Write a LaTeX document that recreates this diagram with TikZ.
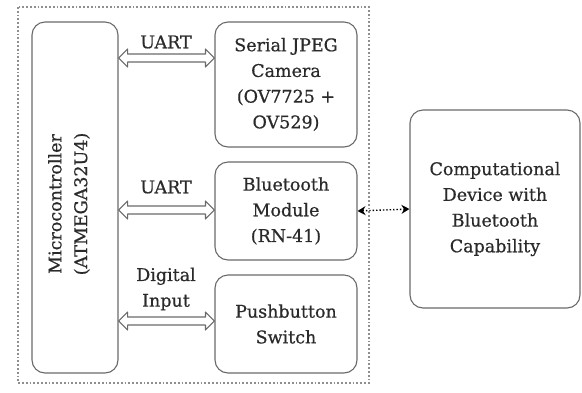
\documentclass[tikz,border=0pt]{standalone}
\usepackage{fontspec}
\setmainfont{DejaVu Serif}[FakeBold=0.6]
\usetikzlibrary{arrows.meta,calc}
\definecolor{linegray}{HTML}{6A6A6A}
\definecolor{textgray}{HTML}{2A2A2A}
\newcommand{\hollowdbl}[2]{%
  \draw[linegray, line width=1.1pt, fill=white, line join=round]
    (#1) -- ++(9,-9) -- ++(0,5) -- ($(#2)+(-9,-4)$) -- ++(0,-5) -- (#2)
    -- ++(-9,9) -- ++(0,-5) -- ($(#1)+(9,4)$) -- ++(0,5) -- cycle;}
\begin{document}
\begin{tikzpicture}[x=1pt,y=-1pt,
  box/.style={draw=linegray, line width=1.1pt, rounded corners=13pt, text=textgray, align=center,
    font=\fontsize{17.5}{25.7}\selectfont, inner sep=0pt},
  lbl/.style={text=textgray, align=center, font=\fontsize{17.5}{25.7}\selectfont, inner sep=0pt},
  dots/.style={draw=black, dotted, line width=1.4pt, {Stealth[length=8pt,width=9pt]}-{Stealth[length=8pt,width=9pt]}}]
\useasboundingbox (0,0) rectangle (582,392);
\draw[linegray!75, dotted, line width=1.8pt] (18,7) rectangle (369,383);
\node[box, minimum width=86pt, minimum height=351pt] (mcu) at (75,197.5) {};
\node[lbl, rotate=90] (mcutext) at (69,204) {Microcontroller\\(ATMEGA32U4)};
\node[box, minimum width=142pt, minimum height=125pt] (cam) at (286,84.5) {Serial JPEG\\Camera\\(OV7725 +\\OV529)};
\node[box, minimum width=142pt, minimum height=98pt] (bt) at (286,211) {Bluetooth\\Module\\(RN-41)};
\node[box, minimum width=142pt, minimum height=98pt] (pb) at (286,324) {Pushbutton\\Switch};
\node[box, minimum width=170pt, minimum height=198pt] (comp) at (495,209) {Computational\\Device with\\Bluetooth\\Capability};
\coordinate (y1) at (0,58);
\coordinate (y2) at (0,210);
\coordinate (y3) at (0,321);
\coordinate (a1) at (mcu.east |- y1);
\coordinate (b1) at (cam.west |- y1);
\coordinate (a2) at (mcu.east |- y2);
\coordinate (b2) at (bt.west |- y2);
\coordinate (a3) at (mcu.east |- y3);
\coordinate (b3) at (pb.west |- y3);
\hollowdbl{a1}{b1}
\hollowdbl{a2}{b2}
\hollowdbl{a3}{b3}
\node[lbl] (l1) at (166,42) {UART};
\node[lbl] (l2) at (166,187) {UART};
\node[lbl] (l3) at (166,289) {Digital\\Input};
\draw[dots] (bt.east) -- (comp.west);
\end{tikzpicture}
\end{document}
